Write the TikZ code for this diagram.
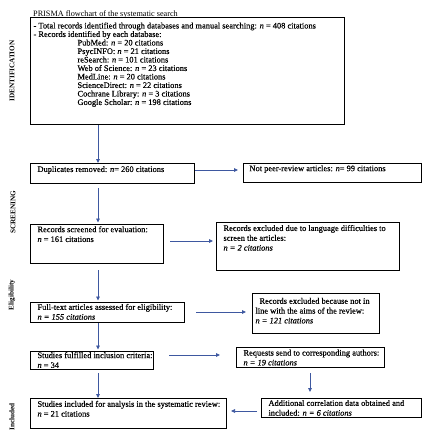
\documentclass[tikz,border=0pt]{standalone}
\usepackage{fontspec}
\setmainfont{Liberation Serif}
\newfontfamily\boxfont{Liberation Serif}[FakeBold=0.35]
\usetikzlibrary{arrows.meta}
\definecolor{arrblue}{RGB}{62,88,160}
\newcommand{\bxt}[5]{\parbox[t][#2][t]{#1}{\boxfont\fontsize{8.4}{9.8}\selectfont\vspace*{#4}\hspace*{#3}\begin{tabular}[t]{@{}l@{}}#5\end{tabular}}}
\tikzset{
  box/.style={draw=black, line width=1pt, anchor=north west, inner sep=0pt},
  arr/.style={draw=arrblue, line width=0.75pt, -{Triangle[length=4pt,width=3.6pt]}},
  side/.style={rotate=90, font=\bfseries\fontsize{7.2}{8}\selectfont, inner sep=0pt},
}
\begin{document}
\begin{tikzpicture}[x=1pt,y=-1pt]
\useasboundingbox (0,0) rectangle (425,437);
\fill[white] (0,0) rectangle (425,437);
\node[anchor=west, inner sep=0pt, font=\fontsize{8.2}{9}\selectfont] (title) at (33,14) {PRISMA flowchart of the systematic search};

\node[box] (top) at (30,17) {\parbox[t][107pt][t]{314pt}{\boxfont\fontsize{8.4}{8.5}\selectfont\vspace*{5pt}\hspace*{3pt}%
\begin{tabular}[t]{@{}l@{}}
- Total records identified through databases and manual searching: \textit{n} = 408 citations\\
- Records identified by each database:\\
\hspace*{44pt}PubMed: \textit{n} = 20 citations\\
\hspace*{44pt}PsycINFO: \textit{n} = 21 citations\\
\hspace*{44pt}reSearch: \textit{n} = 101 citations\\
\hspace*{44pt}Web of Science: \textit{n} = 23 citations\\
\hspace*{44pt}MedLine: \textit{n} = 20 citations\\
\hspace*{44pt}ScienceDirect: \textit{n} = 22 citations\\
\hspace*{44pt}Cochrane Library: \textit{n} = 3 citations\\
\hspace*{44pt}Google Scholar: \textit{n} = 198 citations
\end{tabular}}};

\node[box] (dup) at (30,163) {\bxt{164pt}{20pt}{7pt}{1.6pt}{Duplicates removed: \textit{n}= 260 citations}};
\node[box] (np) at (243,163) {\bxt{178pt}{19pt}{6pt}{0.8pt}{Not peer-review articles: \textit{n}= 99 citations}};
\node[box] (scr) at (30,224) {\bxt{133pt}{39pt}{7pt}{0.8pt}{Records screened for evaluation:\\ \textit{n} = 161 citations}};
\node[box] (lang) at (216,222) {\bxt{183pt}{48pt}{7pt}{1.6pt}{Records excluded due to language difficulties to\\ screen the articles:\\ \textit{n = 2 citations}}};
\node[box] (full) at (30,302) {\bxt{154pt}{20pt}{7pt}{0.5pt}{Full-text articles assessed for eligibility:\\ \textit{n = 155 citations}}};
\node[box] (excl) at (252,293) {\bxt{127pt}{40pt}{3pt}{3.4pt}{\hspace*{4pt}Records excluded because not in\\ line with the aims of the review:\\ \textit{n = 121 citations}}};
\node[box] (ful) at (30,351) {\bxt{123pt}{18pt}{7pt}{-0.3pt}{Studies fulfilled inclusion criteria:\\ \textit{n} = 34}};
\node[box] (req) at (236,347) {\bxt{148pt}{20pt}{7pt}{1.2pt}{Requests send to corresponding authors:\\ \textit{n = 19 citations}}};
\node[box] (add) at (261,398) {\bxt{160pt}{19pt}{7pt}{0.5pt}{Additional correlation data obtained and\\ included: \textit{n = 6 citations}}};
\node[box] (inc) at (30,398) {\bxt{196pt}{30pt}{7pt}{1.4pt}{Studies included for analysis in the systematic review:\\ \textit{n} = 21 citations}};

\node[side] (l1) at (12,71) {IDENTIFICATION};
\node[side] (l2) at (13,212) {SCREENING};
\node[side] (l3) at (12,295) {Eligibility};
\node[side] (l4) at (12,417) {Included};

\draw[arr] (top.south -| 98,0) -- (dup.north -| 98,0);
\draw[arr, shorten >=5pt] (dup.east |- 0,170) -- (np.west |- 0,170);
\draw[arr, shorten <=4pt, shorten >=1.5pt] (dup.south -| 98,0) -- (scr.north -| 98,0);
\draw[arr, shorten <=6pt, shorten >=3pt] (scr.east |- 0,241) -- (lang.west |- 0,241);
\draw[arr, shorten <=6pt, shorten >=1.5pt] (scr.south -| 98,0) -- (full.north -| 98,0);
\draw[arr, shorten <=11pt, shorten >=6pt] (full.east |- 0,312) -- (excl.west |- 0,312);
\draw[arr, shorten >=1.5pt] (full.south -| 98,0) -- (ful.north -| 98,0);
\draw[arr, shorten <=15pt, shorten >=16pt] (ful.east |- 0,355) -- (req.west |- 0,355);
\draw[arr, shorten <=5pt, shorten >=6pt] (req.south -| 310,0) -- (add.north -| 310,0);
\draw[arr, shorten <=4pt, shorten >=4pt] (add.west |- 0,411) -- (inc.east |- 0,411);
\draw[arr, shorten <=3pt] (ful.south -| 98,0) -- (inc.north -| 98,0);
\end{tikzpicture}
\end{document}
